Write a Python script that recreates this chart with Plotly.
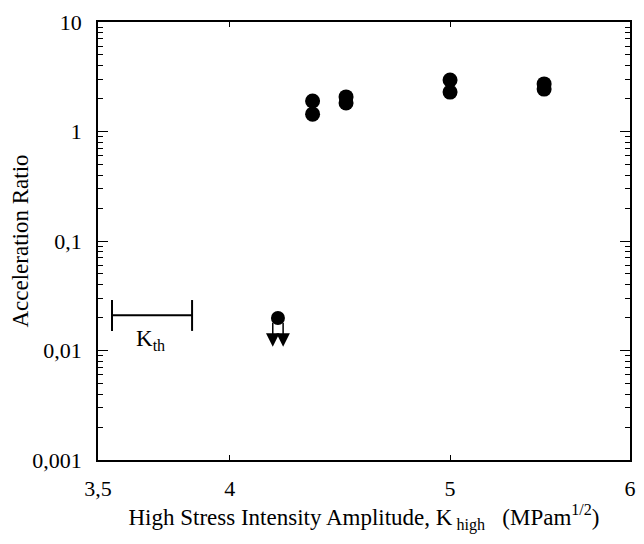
import numpy as np
import plotly.graph_objects as go

# --- DATA ---
K_HIGH = [4.35, 4.35, 4.5, 4.5, 5.0, 5.0, 5.5, 5.5]
ACCEL_RATIO = [1.90, 1.44, 2.07, 1.82, 2.95, 2.29, 2.72, 2.44]

# upper-limit point (no acceleration measured) with downward arrows
LIMIT_X = [4.2]
LIMIT_Y = [0.0198]
ARROW_X = [4.178, 4.222]
ARROW_Y_START = 0.0185
ARROW_Y_END = 0.0108

# threshold range K_th
KTH_RANGE = [3.55, 3.85]
KTH_Y = 0.021
KTH_CAP = [0.0151, 0.0289]

X_TICKS = [3.5, 4, 5, 6]
X_TICKTEXT = ['3,5', '4', '5', '6']
Y_TICKS = [0.001, 0.01, 0.1, 1, 10]
Y_TICKTEXT = ['0,001', '0,01', '0,1', '1', '10']

FONT = 'Liberation Serif'
FS = 22
FS_TITLE = 23

fig = go.Figure()

# K_th bracket
bx = [KTH_RANGE[0], KTH_RANGE[0], None, KTH_RANGE[0], KTH_RANGE[1], None, KTH_RANGE[1], KTH_RANGE[1]]
by = [KTH_CAP[0], KTH_CAP[1], None, KTH_Y, KTH_Y, None, KTH_CAP[0], KTH_CAP[1]]
fig.add_trace(go.Scatter(x=bx, y=by, mode='lines', line=dict(color='black', width=2),
                         showlegend=False, hoverinfo='skip'))

# arrows below the limit point
for ax_ in ARROW_X:
    fig.add_annotation(x=np.log10(ax_), y=np.log10(ARROW_Y_END),
                       ax=np.log10(ax_), ay=np.log10(ARROW_Y_START),
                       xref='x', yref='y', axref='x', ayref='y',
                       showarrow=True, arrowhead=2, arrowsize=1.8, arrowwidth=1.5,
                       arrowcolor='black', text='')

fig.add_trace(go.Scatter(x=LIMIT_X, y=LIMIT_Y, mode='markers',
                         marker=dict(size=14, color='black'), showlegend=False))

fig.add_trace(go.Scatter(x=K_HIGH, y=ACCEL_RATIO, mode='markers',
                         marker=dict(size=15, color='black'), showlegend=False))

fig.add_annotation(x=np.log10(3.69), y=np.log10(0.0126), xref='x', yref='y',
                   text='K<sub>th</sub>', showarrow=False,
                   font=dict(family=FONT, size=FS_TITLE, color='black'))

minor_y = [m * 10.0 ** e for e in range(-3, 1) for m in range(2, 10)]

# page body keeps an 8px margin, so the figure is drawn 16px smaller
fig.update_layout(
    width=628, height=528,
    paper_bgcolor='white', plot_bgcolor='white',
    margin=dict(l=90, r=6, t=14, b=76),
    font=dict(family=FONT, size=FS, color='black'),
    xaxis=dict(
        type='log', range=[np.log10(3.5), np.log10(6)],
        tickvals=X_TICKS, ticktext=X_TICKTEXT,
        ticks='inside', ticklen=5, tickcolor='black',
        showline=True, linecolor='black', linewidth=1.5, mirror='ticks',
        showgrid=False, zeroline=False, ticklabelstandoff=8, automargin=False,
        title=dict(text='High Stress Intensity Amplitude, K<sub> high</sub>   (MPam<sup>1/2</sup>)',
                   standoff=6, font=dict(family=FONT, size=FS_TITLE)),
    ),
    yaxis=dict(
        type='log', range=[-3, 1],
        tickvals=Y_TICKS, ticktext=Y_TICKTEXT,
        ticks='inside', ticklen=10, tickcolor='black',
        minor=dict(tickvals=minor_y, ticks='inside', ticklen=5, tickcolor='black'),
        showline=True, linecolor='black', linewidth=1.5, mirror='ticks',
        showgrid=False, zeroline=False, ticklabelstandoff=10, automargin=False,
        title=dict(text='Acceleration Ratio', standoff=0, font=dict(family=FONT, size=FS_TITLE)),
    ),
)

fig.write_html("out.html")
